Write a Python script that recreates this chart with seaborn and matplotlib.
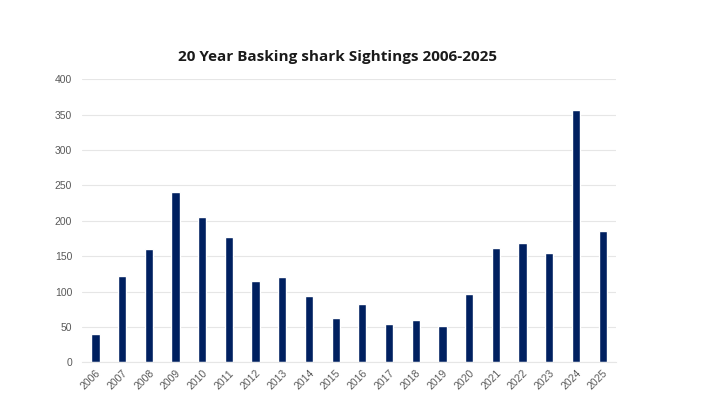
import pandas as pd
import matplotlib
matplotlib.use("Agg")
import matplotlib.pyplot as plt
import seaborn as sns


# Sightings per year
years = [str(y) for y in range(2006, 2026)]
sightings = [40, 122, 160, 240, 205, 177, 115, 120, 94, 62,
             82, 54, 60, 52, 96, 161, 168, 155, 357, 186]
y_ticks = [0, 50, 100, 150, 200, 250, 300, 350, 400]

df = pd.DataFrame({"year": years, "sightings": sightings})

sns.set_style("white")
plt.rcParams["font.family"] = ["Liberation Sans", "DejaVu Sans"]

fig = plt.figure(figsize=(7.04, 4.04), dpi=100)
ax = fig.add_axes([0.1165, 0.103, 0.7585, 0.701])

sns.barplot(data=df, x="year", y="sightings", color="#002060",
            width=0.31, saturation=1, ax=ax)

ax.set_xlim(-0.5, len(years) - 0.5)
ax.set_ylim(0, 400)
ax.set_yticks(y_ticks)
ax.yaxis.grid(True, color="#e6e6e6", linewidth=0.8)
ax.set_axisbelow(True)
for side in ["top", "right", "left"]:
    ax.spines[side].set_visible(False)
ax.spines["bottom"].set_color("#e6e6e6")
ax.set_xlabel("")
ax.set_ylabel("")
ax.tick_params(axis="both", length=0, colors="#595959", labelsize=7.5)
ax.tick_params(axis="y", pad=7)
ax.tick_params(axis="x", pad=4)
plt.setp(ax.get_xticklabels(), rotation=45, ha="right", rotation_mode="anchor")

fig.text(0.48, 0.858, "20 Year Basking shark Sightings 2006-2025",
         ha="center", va="center", fontsize=11, fontweight="bold",
         color="#1a1a1a", family=["Open Sans", "DejaVu Sans"])

fig.savefig("out.png", dpi=100)
